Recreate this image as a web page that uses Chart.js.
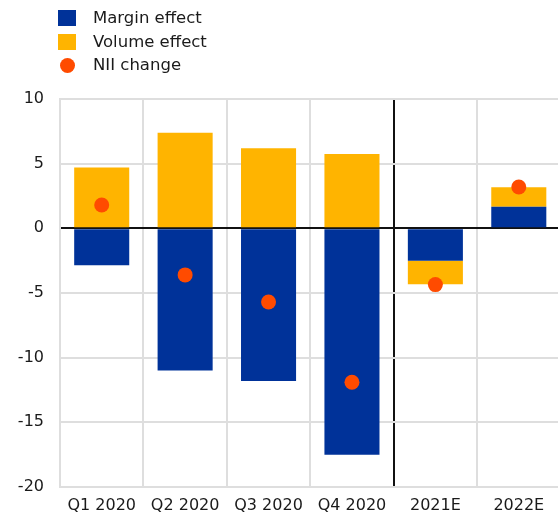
<!DOCTYPE html>
<html>
<head>
<meta charset="utf-8">
<script src="https://cdn.jsdelivr.net/npm/chart.js@4.4.1/dist/chart.umd.min.js"></script>
<style>
    html, body { margin: 0; padding: 0; overflow: hidden; background: #fff; }
    #wrap { position: relative; width: 568px; height: 517px; }
    #legend { position: absolute; left: 58px; top: 10px; font-family: "DejaVu Sans", sans-serif; font-size: 16.5px; color: #1a1a1a; }
    .row { position: relative; height: 23.5px; }
    .key { position: absolute; left: 0; top: 0; width: 18px; height: 16px; }
    .key.dot { left: 1.5px; width: 15px; height: 15px; border-radius: 50%; top: 0.5px; }
    .txt { position: absolute; left: 35px; top: -2px; white-space: nowrap; }
</style>
</head>
<body>
<div id="wrap">
    <canvas id="niiChart" width="568" height="517"></canvas>
    <div id="legend"></div>
</div>
<script>
// kategoriler ve seriler
const categories = ['Q1 2020', 'Q2 2020', 'Q3 2020', 'Q4 2020', '2021E', '2022E'];
const marginEffect = [-2.85, -11.0, -11.8, -17.5, -2.5, 1.67];
const volumeEffect = [4.7, 7.4, 6.2, 5.75, -1.83, 1.5];
const niiChange = [1.8, -3.6, -5.7, -11.9, -4.35, 3.2];
const yTicks = [-20, -15, -10, -5, 0, 5, 10];

const colors = { margin: '#003299', volume: '#ffb400', nii: '#ff4b00' };
const tickFont = { family: 'DejaVu Sans', size: 16 };

const ctx = document.getElementById('niiChart').getContext('2d');

const chart = new Chart(ctx, {
    type: 'bar',
    data: {
        labels: categories,
        datasets: [
            {
                type: 'line',
                label: 'NII change',
                data: niiChange,
                stack: 'nii',
                showLine: false,
                pointRadius: 7.5,
                pointHoverRadius: 7.5,
                pointBackgroundColor: colors.nii,
                pointBorderWidth: 0,
                backgroundColor: colors.nii,
                order: 0
            },
            {
                label: 'Margin effect',
                data: marginEffect,
                backgroundColor: colors.margin,
                stack: 'effects',
                order: 1
            },
            {
                label: 'Volume effect',
                data: volumeEffect,
                backgroundColor: colors.volume,
                stack: 'effects',
                order: 1
            }
        ]
    },
    options: {
        responsive: false,
        animation: false,
        layout: { padding: { top: 99, right: 1, left: 0, bottom: 0 } },
        datasets: {
            bar: { categoryPercentage: 1, barPercentage: 0.66, borderWidth: 0 }
        },
        plugins: {
            legend: { display: false },
            tooltip: { enabled: false }
        },
        scales: {
            x: {
                stacked: true,
                grid: {
                    offset: true,
                    drawTicks: false,
                    lineWidth: 2,
                    color: (c) => c.index === 4 ? '#111' : '#dedede'
                },
                border: { color: '#dedede', width: 2 },
                ticks: { font: tickFont, color: '#1a1a1a', padding: 9, maxRotation: 0 },
                afterFit: (scale) => { scale.height = 30; }
            },
            y: {
                stacked: true,
                min: yTicks[0],
                max: yTicks[yTicks.length - 1],
                afterBuildTicks: (scale) => { scale.ticks = yTicks.map(v => ({ value: v })); },
                grid: {
                    drawTicks: false,
                    lineWidth: 2,
                    color: (c) => c.tick && c.tick.value === 0 ? '#111' : '#dedede'
                },
                border: { color: '#dedede', width: 2 },
                ticks: { font: tickFont, color: '#1a1a1a', padding: 16 },
                afterFit: (scale) => { scale.width = 60; }
            }
        }
    }
});

// legend (margin, volume, nii sırası)
const legendDiv = document.getElementById('legend');
[1, 2, 0].forEach(i => {
    const ds = chart.data.datasets[i];
    const row = document.createElement('div');
    row.className = 'row';
    const key = document.createElement('div');
    key.className = ds.type === 'line' ? 'key dot' : 'key';
    key.style.background = ds.backgroundColor;
    const txt = document.createElement('div');
    txt.className = 'txt';
    txt.textContent = ds.label;
    row.appendChild(key);
    row.appendChild(txt);
    legendDiv.appendChild(row);
});
</script>
</body>
</html>
